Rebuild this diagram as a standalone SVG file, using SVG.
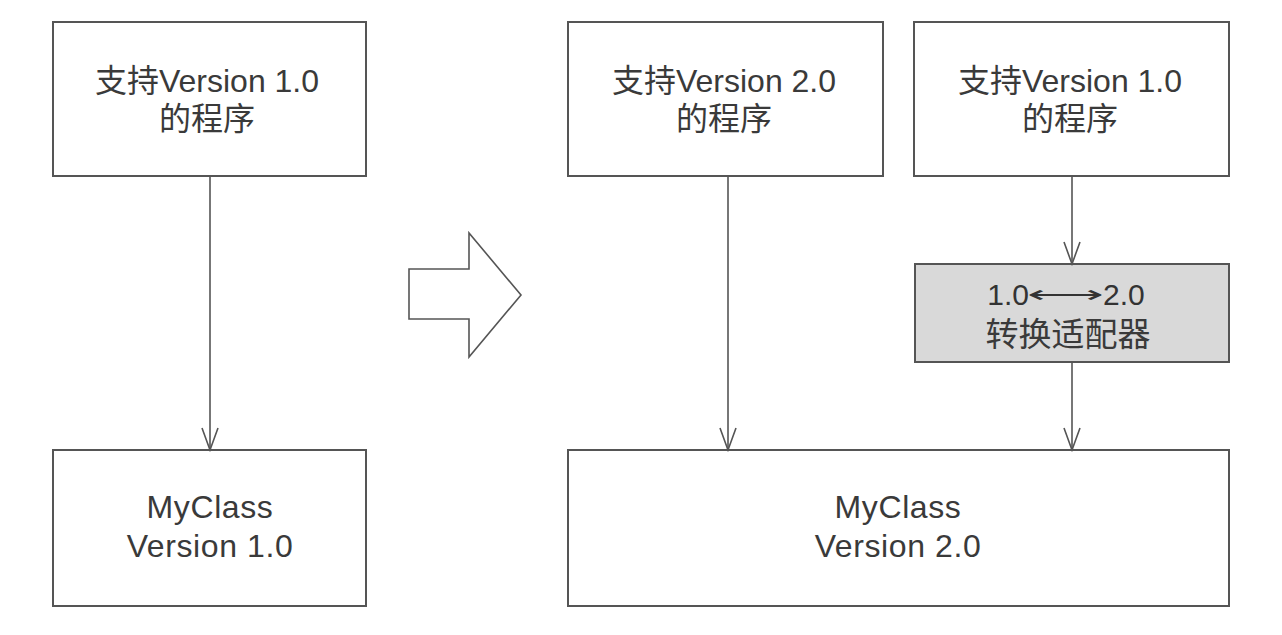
<svg xmlns="http://www.w3.org/2000/svg" width="1282" height="635" viewBox="0 0 1282 635">
<style>
.box{fill:#fff;stroke:#555;stroke-width:2}
.gray{fill:#d9d9d9;stroke:#555;stroke-width:2}
.t{font-family:"Liberation Sans","Noto Sans CJK SC",sans-serif;font-size:32px;fill:#3a3a3a;text-anchor:middle}
.e{letter-spacing:0.6px}
.a{font-family:"Liberation Sans","DejaVu Sans",sans-serif;font-size:30px;fill:#333}
.ar{font-family:"DejaVu Sans",sans-serif;font-weight:200;font-size:24px;fill:#333}
.c{stroke:#555;stroke-width:1.6;fill:none}
</style>
<defs>
<marker id="open" markerWidth="26" markerHeight="20" refX="24" refY="10" orient="auto" markerUnits="userSpaceOnUse" viewBox="0 0 26 20">
<path d="M2,2 L24,10 L2,18" fill="none" stroke="#555" stroke-width="1.6"/>
</marker>
</defs>
<rect width="1282" height="635" fill="#fff"/>
<g id="left-program">
<rect class="box" x="53" y="22" width="313" height="154"/>
<text class="t" x="207" y="92">支持Version 1.0</text>
<text class="t" x="207" y="130">的程序</text>
</g>
<g id="left-myclass">
<rect class="box" x="53" y="450" width="313" height="156"/>
<text class="t e" x="210" y="518">MyClass</text>
<text class="t e" x="210" y="557">Version 1.0</text>
</g>
<g id="big-arrow">
<polygon points="409,269 469,269 469,233 521,295 469,357 469,319 409,319" fill="#fff" stroke="#555" stroke-width="1.6"/>
</g>
<g id="program-v2">
<rect class="box" x="568" y="22" width="315" height="154"/>
<text class="t" x="724" y="92">支持Version 2.0</text>
<text class="t" x="724" y="130">的程序</text>
</g>
<g id="program-v1">
<rect class="box" x="914" y="22" width="315" height="154"/>
<text class="t" x="1070" y="92">支持Version 1.0</text>
<text class="t" x="1070" y="130">的程序</text>
</g>
<g id="adapter">
<rect class="gray" x="915" y="264" width="314" height="98"/>
<text class="a" x="1029" y="305" text-anchor="end">1.0</text>
<text class="ar" x="1027" y="303" textLength="76" lengthAdjust="spacingAndGlyphs">⟷</text>
<text class="a" x="1103" y="305">2.0</text>
<text class="t" x="1068" y="346" style="font-size:33px">转换适配器</text>
</g>
<g id="right-myclass">
<rect class="box" x="568" y="450" width="661" height="156"/>
<text class="t e" x="898" y="518">MyClass</text>
<text class="t e" x="898" y="557">Version 2.0</text>
</g>
<g id="connectors">
<line class="c" x1="210" y1="176" x2="210" y2="450" marker-end="url(#open)"/>
<line class="c" x1="728" y1="176" x2="728" y2="450" marker-end="url(#open)"/>
<line class="c" x1="1072" y1="176" x2="1072" y2="264" marker-end="url(#open)"/>
<line class="c" x1="1072" y1="362" x2="1072" y2="450" marker-end="url(#open)"/>
</g>
</svg>
